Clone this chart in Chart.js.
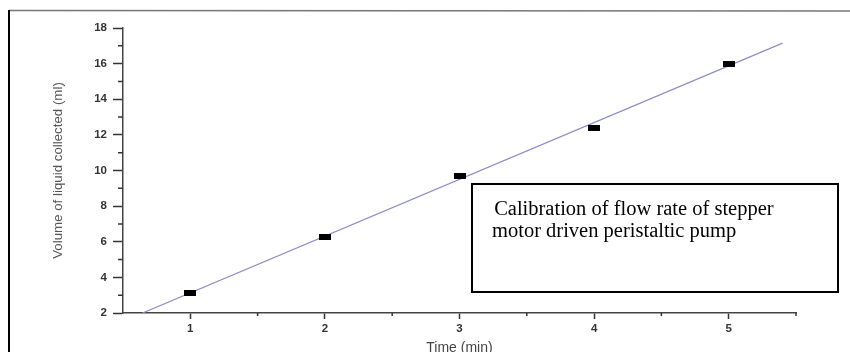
<!DOCTYPE html>
<html>
<head>
<meta charset="utf-8">
<script src="https://cdn.jsdelivr.net/npm/chart.js@4/dist/chart.umd.min.js"></script>
<style>
  body { margin: 0; background: #fff; }
  canvas { display: block; }
</style>
</head>
<body>
<canvas id="grafica" width="850" height="352"></canvas>
<script>
// datos
const tiempos = [1, 2, 3, 4, 5];
const volumenes = [3.15, 6.25, 9.7, 12.4, 16.0];
// recta de ajuste (extremos)
const ajusteX = [0.645, 5.4];
const ajusteY = [2, 17.15];
const xTicks = [1, 2, 3, 4, 5];
const xMenores = [1.5, 2.5, 3.5, 4.5, 5.5];
const yTicks = [2, 4, 6, 8, 10, 12, 14, 16, 18];
const yMenores = [3, 5, 7, 9, 11, 13, 15, 17];
const nota = [' Calibration of flow rate of stepper', 'motor driven peristaltic pump'];

// marcador rectangular 12x6
const marcador = document.createElement('canvas');
marcador.width = 12;
marcador.height = 6;
const mctx = marcador.getContext('2d');
mctx.fillStyle = '#000';
mctx.fillRect(0, 0, 12, 6);

const extras = {
    id: 'extras',
    beforeDraw(chart) {
        const ctx = chart.ctx;
        ctx.save();
        ctx.fillStyle = '#fff';
        ctx.fillRect(0, 0, chart.width, chart.height);
        // marco exterior
        ctx.strokeStyle = '#777';
        ctx.lineWidth = 1.5;
        ctx.beginPath();
        ctx.moveTo(9, 10.5);
        ctx.lineTo(850, 11);
        ctx.stroke();
        ctx.strokeStyle = '#000';
        ctx.lineWidth = 2;
        ctx.beginPath();
        ctx.moveTo(9, 10);
        ctx.lineTo(9, 352);
        ctx.stroke();
        ctx.restore();
    },
    afterDraw(chart) {
        const ctx = chart.ctx;
        const x = chart.scales.x;
        const y = chart.scales.y;
        ctx.save();
        ctx.strokeStyle = '#333';
        ctx.lineWidth = 1.5;
        ctx.beginPath();
        yMenores.forEach(v => {
            const py = y.getPixelForValue(v);
            ctx.moveTo(x.left, py);
            ctx.lineTo(x.left - 5, py);
        });
        xMenores.forEach(v => {
            const px = x.getPixelForValue(v);
            ctx.moveTo(px, y.bottom);
            ctx.lineTo(px, y.bottom + 3);
        });
        ctx.stroke();

        // cuadro de texto
        ctx.strokeStyle = '#000';
        ctx.lineWidth = 2;
        ctx.strokeRect(472, 184, 366, 108);
        ctx.fillStyle = '#000';
        ctx.font = '20.5px "Liberation Serif", "Times New Roman", serif';
        ctx.textBaseline = 'alphabetic';
        ctx.fillText(nota[0], 489, 215);
        ctx.fillText(nota[1], 492, 237);
        ctx.restore();
    }
};

new Chart(document.getElementById('grafica'), {
    type: 'scatter',
    data: {
        datasets: [{
            label: 'Ajuste',
            data: ajusteX.map((v, i) => ({ x: v, y: ajusteY[i] })),
            showLine: true,
            borderColor: '#8c8cc8',
            borderWidth: 1.2,
            pointRadius: 0,
            order: 2
        }, {
            label: 'Volumen',
            data: tiempos.map((t, i) => ({ x: t, y: volumenes[i] })),
            pointStyle: marcador,
            pointRadius: 6,
            order: 1
        }]
    },
    options: {
        responsive: false,
        animation: false,
        layout: { padding: { left: 0, right: 54, top: 28, bottom: 0 } },
        plugins: { legend: { display: false }, tooltip: { enabled: false } },
        scales: {
            x: {
                type: 'linear',
                min: 0.5,
                max: 5.5,
                afterBuildTicks: s => { s.ticks = xTicks.map(v => ({ value: v })); },
                afterFit: s => { s.height = 39; },
                grid: { drawOnChartArea: false, tickLength: 6, tickColor: '#333', tickWidth: 1.5 },
                border: { color: '#444', width: 1.5 },
                ticks: { color: '#333', padding: 3, font: { family: 'Liberation Sans', size: 11.5, weight: 'bold' } },
                title: { display: true, text: 'Time (min)', color: '#444', padding: { top: 0, bottom: -5 }, font: { family: 'Liberation Sans', size: 14 } }
            },
            y: {
                min: 2,
                max: 18,
                afterBuildTicks: s => { s.ticks = yTicks.map(v => ({ value: v })); },
                afterFit: s => { s.width = 123; },
                grid: { drawOnChartArea: false, tickLength: 10, tickColor: '#333', tickWidth: 1.5 },
                border: { color: '#444', width: 1.5 },
                ticks: { color: '#333', padding: 6, font: { family: 'Liberation Sans', size: 11.5, weight: 'bold' } },
                title: { display: true, text: 'Volume of liquid collected (ml)', color: '#555', padding: { top: 50, bottom: 0 }, font: { family: 'Liberation Sans', size: 13.3 } }
            }
        }
    },
    plugins: [extras]
});
</script>
</body>
</html>
